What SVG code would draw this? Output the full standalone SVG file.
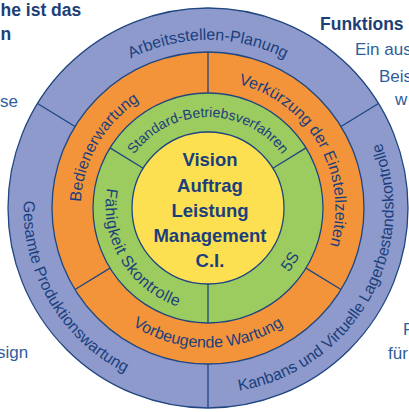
<svg xmlns="http://www.w3.org/2000/svg" xmlns:xlink="http://www.w3.org/1999/xlink" width="409" height="412" viewBox="0 0 409 412">
<style>
.ring{stroke:#1f4680;stroke-width:1.3}
.div{stroke:#1f4680;stroke-width:1.3;fill:none}
.lbl{font-family:"Liberation Sans",Arial,sans-serif;fill:#1b3f7c}
.o{font-size:16px}
.m{font-size:16px}
.g{font-size:14px}
.gl{font-size:16px;letter-spacing:0.5px}
.core{font-family:"Liberation Sans",Arial,sans-serif;font-weight:bold;font-size:18.5px;fill:#1b3f7c;text-anchor:middle}
.hd{font-family:"Liberation Sans",Arial,sans-serif;font-weight:bold;font-size:17.5px;fill:#1c3f78}
.bt{font-family:"Liberation Sans",Arial,sans-serif;font-size:17px;fill:#2f5e9c}
</style>
<defs>
<path id="pArb" d="M40.1,202.1 A168,168 0 0 1 375.9,202.1"/>
<path id="pGes" d="M109.1,52.8 A184,184 0 0 0 295.8,369.7"/>
<path id="pKan" d="M118.0,368.6 A184,184 0 0 0 301.0,49.3"/>
<path id="pBed" d="M140.2,316.5 A128,128 0 0 1 268.1,95.0"/>
<path id="pVer" d="M148.9,94.5 A128,128 0 0 1 274.9,317.1"/>
<path id="pVor" d="M68.1,212.9 A140,140 0 0 0 347.9,212.9"/>
<path id="pStd" d="M116.1,204.8 A92,92 0 0 1 299.9,204.8"/>
<path id="pFae" d="M150.8,119.1 A106,106 0 0 0 259.7,300.4"/>
<path id="p5S" d="M155.0,296.3 A103,103 0 0 0 267.1,123.6"/>
</defs>

<g id="page-text">
<text class="hd" x="0.5" y="16">he ist das</text>
<text class="hd" x="0.5" y="40">n</text>
<text class="bt" x="0" y="107">se</text>
<text class="bt" x="-3" y="358">sign</text>
<text class="hd" x="320" y="30">Funktions</text>
<text class="bt" x="355" y="55">Ein aus</text>
<text class="bt" x="379" y="82">Beis</text>
<text class="bt" x="395" y="105">w</text>
<text class="bt" x="403" y="335">R</text>
<text class="bt" x="388" y="359">für</text>
</g>

<g id="outer-ring">
<circle class="ring" cx="208" cy="208" r="200" fill="#8e9acc"/>
</g>
<g id="middle-ring">
<circle class="ring" cx="208" cy="208" r="156" fill="#f4943a"/>
</g>
<g id="inner-ring">
<circle class="ring" cx="208" cy="208" r="115" fill="#9ccb5f"/>
</g>

<g id="dividers">
<line class="div" x1="75.0" y1="126.5" x2="37.5" y2="103.5"/>
<line class="div" x1="341.0" y1="126.5" x2="378.5" y2="103.5"/>
<line class="div" x1="208" y1="364" x2="208" y2="408"/>
<line class="div" x1="208" y1="93" x2="208" y2="52"/>
<line class="div" x1="306.0" y1="268.1" x2="341.0" y2="289.5"/>
<line class="div" x1="110.0" y1="268.1" x2="75.0" y2="289.5"/>
<line class="div" x1="208" y1="284" x2="208" y2="323"/>
<line class="div" x1="143.2" y1="168.3" x2="110.0" y2="147.9"/>
<line class="div" x1="272.8" y1="168.3" x2="306.0" y2="147.9"/>
</g>

<g id="arbeitsstellen-planung"><text class="lbl o"><textPath href="#pArb" xlink:href="#pArb" startOffset="50%" text-anchor="middle">Arbeitsstellen-Planung</textPath></text></g>
<g id="gesamte-produktionswartung"><text class="lbl o"><textPath href="#pGes" xlink:href="#pGes" startOffset="50%" text-anchor="middle">Gesamte Produktionswartung</textPath></text></g>
<g id="kanbans"><text class="lbl o"><textPath href="#pKan" xlink:href="#pKan" startOffset="50%" text-anchor="middle">Kanbans und Virtuelle Lagerbestandskontrolle</textPath></text></g>
<g id="bedienerwartung"><text class="lbl m"><textPath href="#pBed" xlink:href="#pBed" startOffset="50%" text-anchor="middle">Bedienerwartung</textPath></text></g>
<g id="verkuerzung"><text class="lbl m"><textPath href="#pVer" xlink:href="#pVer" startOffset="50%" text-anchor="middle">Verkürzung der Einstellzeiten</textPath></text></g>
<g id="vorbeugende-wartung"><text class="lbl m"><textPath href="#pVor" xlink:href="#pVor" startOffset="50%" text-anchor="middle">Vorbeugende Wartung</textPath></text></g>
<g id="standard-betriebsverfahren"><text class="lbl g"><textPath href="#pStd" xlink:href="#pStd" startOffset="50%" text-anchor="middle">Standard-Betriebsverfahren</textPath></text></g>
<g id="faehigkeit-skontrolle"><text class="lbl gl"><textPath href="#pFae" xlink:href="#pFae" startOffset="50%" text-anchor="middle">Fähigkeit Skontrolle</textPath></text></g>
<g id="five-s"><text class="lbl gl"><textPath href="#p5S" xlink:href="#p5S" startOffset="50%" text-anchor="middle">5S</textPath></text></g>

<g id="core">
<circle class="ring" cx="208" cy="208" r="76" fill="#fde052"/>
<text class="core" x="210" y="166">Vision</text>
<text class="core" x="210" y="192">Auftrag</text>
<text class="core" x="210" y="217">Leistung</text>
<text class="core" x="210" y="242">Management</text>
<text class="core" x="210" y="267">C.I.</text>
</g>
</svg>
